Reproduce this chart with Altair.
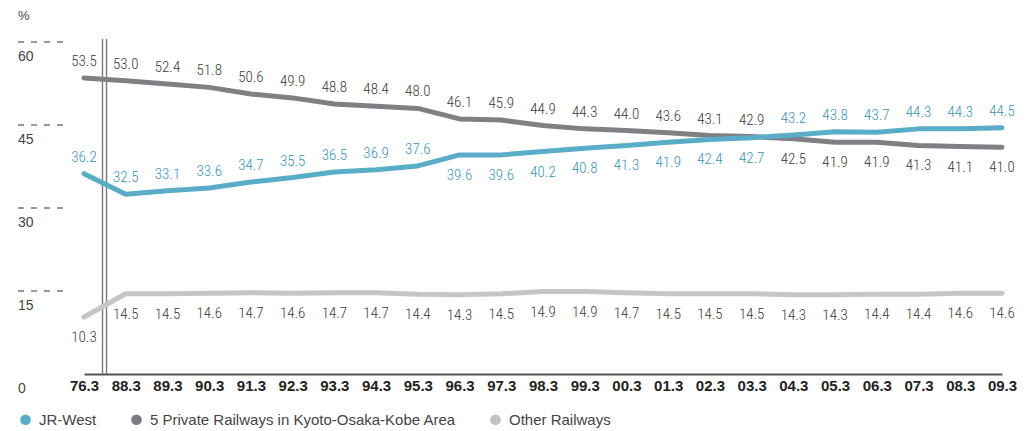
import altair as alt
import pandas as pd

years = ["76.3", "88.3", "89.3", "90.3", "91.3", "92.3", "93.3", "94.3", "95.3", "96.3", "97.3",
         "98.3", "99.3", "00.3", "01.3", "02.3", "03.3", "04.3", "05.3", "06.3", "07.3", "08.3", "09.3"]
jr_west = [36.2, 32.5, 33.1, 33.6, 34.7, 35.5, 36.5, 36.9, 37.6, 39.6, 39.6, 40.2, 40.8, 41.3,
           41.9, 42.4, 42.7, 43.2, 43.8, 43.7, 44.3, 44.3, 44.5]
private5 = [53.5, 53.0, 52.4, 51.8, 50.6, 49.9, 48.8, 48.4, 48.0, 46.1, 45.9, 44.9, 44.3, 44.0,
            43.6, 43.1, 42.9, 42.5, 41.9, 41.9, 41.3, 41.1, 41.0]
other = [10.3, 14.5, 14.5, 14.6, 14.7, 14.6, 14.7, 14.7, 14.4, 14.3, 14.5, 14.9, 14.9, 14.7,
         14.5, 14.5, 14.5, 14.3, 14.3, 14.4, 14.4, 14.6, 14.6]
# which side of the line each value label sits on
jr_side = ["above"] * 9 + ["below"] * 8 + ["above"] * 6
private_side = ["above"] * 17 + ["below"] * 6
other_side = ["below"] * 23

series_names = ["JR-West", "5 Private Railways in Kyoto-Osaka-Kobe Area", "Other Railways"]
line_colors = ["#5aadc9", "#808084", "#c6c6c9"]
legend_colors = ["#5aadc9", "#7d7d81", "#c2c2c5"]
text_colors = ["#3594bb", "#3a3a3a", "#3a3a3a"]
y_ticks = [0, 15, 30, 45, 60]
grid_ticks = [15, 30, 45, 60]

rows = []
for name, vals, sides in zip(series_names, [jr_west, private5, other],
                             [jr_side, private_side, other_side]):
    for yr, v, s in zip(years, vals, sides):
        rows.append({"year": yr, "series": name, "value": v, "side": s})
df = pd.DataFrame(rows)

NARROW = "Roboto Condensed, Liberation Sans Narrow, DejaVu Sans Condensed, Liberation Sans, Arial, sans-serif"
SANS = "Liberation Sans, Arial, Helvetica, sans-serif"

x_enc = alt.X("year:N", sort=years,
              scale=alt.Scale(type="point", domain=years, range=[66, 984], padding=0),
              axis=alt.Axis(title=None, labelAngle=0, ticks=False, domain=True,
                            domainColor="#555555", domainWidth=2, labelFont=SANS,
                            labelFontWeight="bold", labelFontSize=15, labelColor="#222222",
                            labelPadding=4, grid=False))
y_scale = alt.Scale(domain=[0, 60], nice=False, zero=True)
y_enc = alt.Y("value:Q", scale=y_scale, axis=None)

base = alt.Chart(df)
layers = []

# dashed y-grid stubs and y labels
ticks_df = pd.DataFrame({"value": grid_ticks})
layers.append(alt.Chart(ticks_df).mark_rule(color="#333333", strokeWidth=1, strokeDash=[6, 7]).encode(
    y=alt.Y("value:Q", scale=y_scale, axis=None), x=alt.value(0), x2=alt.value(46)))
ylab_df = pd.DataFrame({"value": y_ticks})
layers.append(alt.Chart(ylab_df).mark_text(align="left", baseline="middle", dy=15, font=SANS,
                                           fontSize=14, color="#444444").encode(
    y=alt.Y("value:Q", scale=y_scale, axis=None), x=alt.value(0), text="value:Q"))
# percent sign
layers.append(alt.Chart(pd.DataFrame({"t": ["%"]})).mark_text(
    align="left", baseline="middle", font=SANS, fontSize=13, color="#444444").encode(
    x=alt.value(0), y=alt.value(-26), text="t:N"))
# axis break double line
brk = pd.DataFrame({"t": ["a"]})
for xv in [84.5, 88.5]:
    layers.append(alt.Chart(brk).mark_rule(color="#7a7a7a", strokeWidth=1.4).encode(
        x=alt.value(xv), y=alt.value(-3), y2=alt.value(332)))

# lines (drawn back to front)
for idx in [2, 1, 0]:
    name = series_names[idx]
    layers.append(base.transform_filter(alt.datum.series == name).mark_line(
        strokeWidth=5, strokeCap="round", strokeJoin="round", color=line_colors[idx]).encode(
        x=x_enc, y=y_enc))

# invisible points carrying the legend
layers.append(base.mark_circle(opacity=0, size=1).encode(
    x=x_enc, y=y_enc,
    color=alt.Color("series:N", sort=series_names,
                    scale=alt.Scale(domain=series_names, range=legend_colors),
                    legend=alt.Legend(title=None, orient="none", legendX=0, legendY=370,
                                      direction="horizontal", symbolType="circle",
                                      symbolSize=115, symbolOpacity=1, symbolStrokeWidth=0,
                                      labelFont=SANS, labelFontSize=15, labelColor="#444444",
                                      labelLimit=600, columnPadding=32, labelOffset=6,
                                      padding=0))))

# value labels
for name, tcol in zip(series_names, text_colors):
    for side, dy in [("above", -17), ("below", 20)]:
        layers.append(base.transform_filter(
            (alt.datum.series == name) & (alt.datum.side == side)).mark_text(
            baseline="middle", align="center", dy=dy, font=NARROW, fontSize=15,
            fontWeight=300, color=tcol).encode(
            x=x_enc, y=y_enc, text=alt.Text("value:Q", format=".1f")))

chart = alt.layer(*layers).properties(
    width=992, height=332,
    autosize=alt.AutoSizeParams(type="none"),
    padding={"left": 10, "top": 34, "right": 9, "bottom": 57},
).configure_view(stroke=None)

chart.save("out.html", embed_options={"renderer": "svg", "actions": False})
